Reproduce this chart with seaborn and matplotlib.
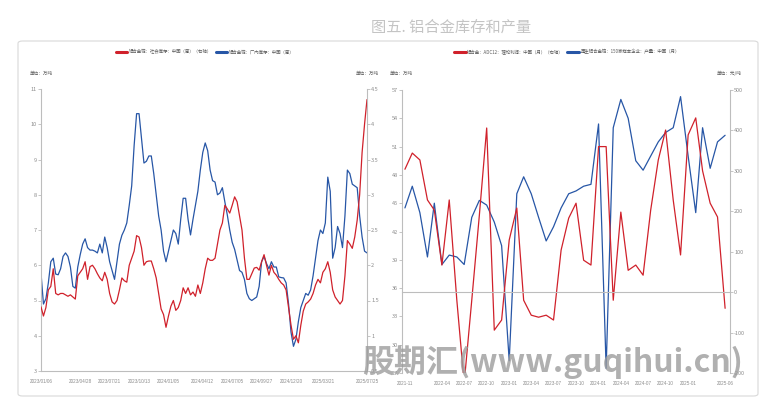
import matplotlib
matplotlib.use("Agg")
import matplotlib.pyplot as plt
from matplotlib.patches import FancyBboxPatch
from matplotlib.lines import Line2D
import seaborn as sns
import pandas as pd

# ---------------- data ----------------
# Left chart: weekly, 2023-01-06 .. 2025-07-25
left_start = "2023-01-06"
factory_stock = [  # 铝合金锭：厂内库存（万吨, left axis)
    5.78, 4.9, 5.05, 5.5, 6.1, 6.2, 5.75, 5.73, 5.9, 6.25,
    6.35, 6.25, 5.95, 5.4, 5.35, 5.95, 6.3, 6.6, 6.75, 6.5,
    6.43, 6.43, 6.4, 6.35, 6.6, 6.35, 6.8, 6.5, 6.1, 5.85,
    5.6, 6.1, 6.6, 6.85, 7.0, 7.2, 7.7, 8.25, 9.4, 10.3,
    10.3, 9.6, 8.9, 8.95, 9.1, 9.1, 8.6, 8.0, 7.4, 7.0,
    6.4, 6.1, 6.4, 6.7, 7.0, 6.9, 6.6, 7.3, 7.9, 7.9,
    7.3, 6.86, 7.3, 7.7, 8.1, 8.7, 9.2, 9.47, 9.25, 8.7,
    8.4, 8.36, 8.0, 8.05, 8.2, 7.8, 7.43, 7.0, 6.65, 6.45,
    6.15, 5.85, 5.8, 5.6, 5.2, 5.05, 5.0, 5.05, 5.1, 5.4,
    6.1, 6.25, 6.05, 5.9, 6.1, 5.95, 5.95, 5.67, 5.65, 5.64,
    5.5, 4.9, 4.1, 3.7, 3.9, 4.4, 4.8, 5.0, 5.2, 5.15,
    5.3, 5.7, 6.2, 6.7, 7.0, 6.9, 7.2, 8.5, 8.1, 6.2,
    6.5, 7.1, 6.9, 6.5, 7.4, 8.7, 8.6, 8.3, 8.25, 8.2,
    7.4, 6.8, 6.4, 6.35,
]
social_stock = [  # 铝合金锭：社会库存（万吨, right axis)
    1.41, 1.28, 1.4, 1.65, 1.7, 1.95, 1.6, 1.58, 1.6, 1.6,
    1.58, 1.56, 1.58, 1.55, 1.52, 1.85, 1.9, 1.95, 2.05, 1.8,
    1.98, 2.0, 1.95, 1.88, 1.82, 1.78, 1.9, 1.8, 1.6, 1.48,
    1.45, 1.5, 1.65, 1.82, 1.78, 1.76, 2.0, 2.1, 2.2, 2.42,
    2.4, 2.25, 2.0, 2.05, 2.06, 2.06, 1.95, 1.82, 1.6, 1.38,
    1.3, 1.12, 1.28, 1.42, 1.5, 1.36, 1.4, 1.5, 1.68, 1.6,
    1.68, 1.58, 1.62, 1.56, 1.72, 1.6, 1.75, 1.95, 2.1, 2.07,
    2.07, 2.1, 2.3, 2.5, 2.6, 2.85, 2.8, 2.74, 2.85, 2.97,
    2.9, 2.7, 2.5, 2.1, 1.8, 1.8, 1.88, 1.96, 1.97, 1.93,
    2.05, 2.15, 2.0, 1.86, 2.0, 1.9, 1.86, 1.8, 1.75, 1.72,
    1.65, 1.4, 1.15, 0.95, 1.0, 0.9, 1.15, 1.35, 1.45, 1.48,
    1.52, 1.6, 1.72, 1.8, 1.75, 1.9, 1.95, 2.05, 1.9, 1.65,
    1.55, 1.5, 1.45, 1.5, 1.85, 2.35, 2.3, 2.24, 2.4, 2.64,
    3.0, 3.6, 4.0, 4.35,
]
left_tick_dates = ["2023/01/06", "2023/04/28", "2023/07/21", "2023/10/13",
                   "2024/01/05", "2024/04/12", "2024/07/05", "2024/09/27",
                   "2024/12/20", "2025/03/21", "2025/06/13", "2025/07/25"]
left_tick_labels = ["2023/01/06", "2023/04/28", "2023/07/21", "2023/10/13",
                    "2024/01/05", "2024/04/12", "2024/07/05", "2024/09/27",
                    "2024/12/20", "2025/03/21", "", "2025/07/25"]

# Right chart: monthly, 2021-11 .. 2025-06
right_start = "2021-11-01"
recycled_output = [  # 再生铝合金锭产量（万吨, left axis)
    44.5, 46.8, 44.0, 39.3, 45.0, 38.5, 39.5, 39.3, 38.5, 43.5,
    45.3, 44.8, 43.0, 40.5, 28.3, 46.0, 47.8, 46.0, 43.5, 41.0,
    42.5, 44.5, 46.0, 46.3, 46.8, 47.0, 53.4, 27.5, 53.0, 56.0,
    54.0, 49.5, 48.5, 50.0, 51.5, 52.5, 53.0, 56.3, 50.0, 44.0,
    53.0, 48.7, 51.5, 52.2,
]
adc12_profit = [  # ADC12 理论利润（元/吨, right axis)
    304, 344, 327, 228, 203, 67, 228, -20, -225, -20,
    190, 406, -94, -69, 129, 208, -20, -57, -62, -57,
    -69, 104, 183, 220, 79, 67, 360, 360, -20, 198,
    54, 67, 42, 203, 327, 401, 228, 92, 389, 431,
    300, 220, 186, -40,
]
right_tick_months = ["2021-11", "2022-04", "2022-07", "2022-10", "2023-01",
                     "2023-04", "2023-07", "2023-10", "2024-01", "2024-04",
                     "2024-07", "2024-10", "2025-01", "2025-06"]

# ---------------- style ----------------
sns.set_theme(style="white")
plt.rcParams["font.family"] = ["Noto Sans CJK SC", "DejaVu Sans"]

RED = "#d0212b"
BLUE = "#2756a6"
SPINE = "#bdbdbd"
TICKC = "#8c8c8c"
TXT = "#595959"

fig = plt.figure(figsize=(7.64, 3.98), dpi=100)

fig.patches.append(FancyBboxPatch((18 / 764, 2 / 398), 740 / 764, 355 / 398,
                                  boxstyle="round,pad=0,rounding_size=0.006",
                                  transform=fig.transFigure, fc="none",
                                  ec="#d9d9d9", lw=0.8))

fig.text(0.59, 0.932, "图五. 铝合金库存和产量", fontsize=11, color="#c4c4c4",
         ha="center", va="center")


def style_axes(ax, left=False, right=False, bottom=False):
    for s in ["top", "left", "right", "bottom"]:
        ax.spines[s].set_visible(False)
    for s, on in (("left", left), ("right", right), ("bottom", bottom)):
        if on:
            ax.spines[s].set_visible(True)
            ax.spines[s].set_color(SPINE)
            ax.spines[s].set_linewidth(0.8)
    ax.tick_params(axis="both", which="both", direction="out", length=2,
                   width=0.6, color=SPINE, labelcolor=TICKC, labelsize=4,
                   pad=1)
    ax.grid(False)
    ax.set_xlabel("")
    ax.set_ylabel("")


# ---------------- left chart ----------------
wdates = pd.date_range(left_start, periods=len(factory_stock), freq="7D")
axL = fig.add_axes([41 / 764, 1 - 371 / 398, 326 / 764, 282 / 398])
sns.lineplot(x=wdates, y=factory_stock, ax=axL, color=BLUE, lw=0.9)
axLr = axL.twinx()
sns.lineplot(x=wdates, y=social_stock, ax=axLr, color=RED, lw=0.9)
axL.set_xlim(wdates[0], wdates[-1])
axL.set_ylim(3, 11)
axLr.set_ylim(0.5, 4.5)
axL.set_yticks(range(3, 12))
axL.set_yticklabels([str(v) for v in range(3, 12)])
rt = [0.5 + 0.5 * k for k in range(9)]
axLr.set_yticks(rt)
axLr.set_yticklabels(["%g" % v for v in rt])
style_axes(axL, left=True, bottom=True)
style_axes(axLr, right=True)
axL.set_xticks(pd.to_datetime(left_tick_dates))
axL.set_xticklabels(left_tick_labels, fontsize=3.3,
                    family=["Liberation Sans", "DejaVu Sans"])
axL.tick_params(axis="x", pad=4)

fig.legend(handles=[Line2D([], [], color=RED, lw=2.2),
                    Line2D([], [], color=BLUE, lw=2.2)],
           labels=["铝合金锭：社会库存：中国（周）（右轴）",
                   "铝合金锭：厂内库存：中国（周）"],
           loc="center", bbox_to_anchor=(205 / 764, 1 - 52 / 398), ncol=2,
           frameon=False, fontsize=3.2, handlelength=2.6, columnspacing=0.8,
           handletextpad=0.4, labelcolor=TXT)
fig.text(30 / 764, 1 - 73 / 398, "单位：万吨", fontsize=3.3, color=TXT,
         ha="left", va="center")
fig.text(356 / 764, 1 - 73 / 398, "单位：万吨", fontsize=3.3, color=TXT,
         ha="left", va="center")

# ---------------- right chart ----------------
mdates = pd.date_range(right_start, periods=len(recycled_output), freq="MS")
axR = fig.add_axes([402 / 764, 1 - 373 / 398, 328 / 764, 283 / 398])
sns.lineplot(x=mdates, y=recycled_output, ax=axR, color=BLUE, lw=0.9)
axRr = axR.twinx()
sns.lineplot(x=mdates, y=adc12_profit, ax=axRr, color=RED, lw=0.9)
axR.set_xlim(mdates[0] - pd.Timedelta(days=12), mdates[-1] + pd.Timedelta(days=20))
axR.set_ylim(27, 57)
axRr.set_ylim(-200, 500)
axR.set_yticks(range(27, 58, 3))
axR.set_yticklabels([str(v) for v in range(27, 58, 3)])
axRr.set_yticks(range(-200, 501, 100))
axRr.set_yticklabels([str(v) for v in range(-200, 501, 100)])
style_axes(axR, left=True)
style_axes(axRr, right=True, bottom=True)
axRr.spines["bottom"].set_position(("data", 0))
axRr.xaxis.set_visible(True)
axR.set_xticks(pd.to_datetime([m + "-01" for m in right_tick_months]))
axR.set_xticklabels(right_tick_months, fontsize=3.3,
                    family=["Liberation Sans", "DejaVu Sans"])
axR.tick_params(axis="x", length=0, pad=6)
axRr.tick_params(axis="x", labelbottom=False, length=2)

fig.legend(handles=[Line2D([], [], color=RED, lw=2.2),
                    Line2D([], [], color=BLUE, lw=2.2)],
           labels=["铝合金：ADC12：理论利润：中国（月）（右轴）",
                   "再生铝合金锭：150家样本企业：产量：中国（月）"],
           loc="center", bbox_to_anchor=(567 / 764, 1 - 52 / 398), ncol=2,
           frameon=False, fontsize=3.2, handlelength=2.6, columnspacing=0.8,
           handletextpad=0.4, labelcolor=TXT)
fig.text(390 / 764, 1 - 73 / 398, "单位：万吨", fontsize=3.3, color=TXT,
         ha="left", va="center")
fig.text(717 / 764, 1 - 73 / 398, "单位：元/吨", fontsize=3.3, color=TXT,
         ha="left", va="center")

# watermark
fig.text(362 / 764, 1 - 362 / 398, "股期汇(www.guqihui.cn)", fontsize=23,
         fontweight="bold", style="italic", color="#9c9c9c", alpha=0.8,
         ha="left", va="center", zorder=10)

fig.savefig("out.png", dpi=100)
